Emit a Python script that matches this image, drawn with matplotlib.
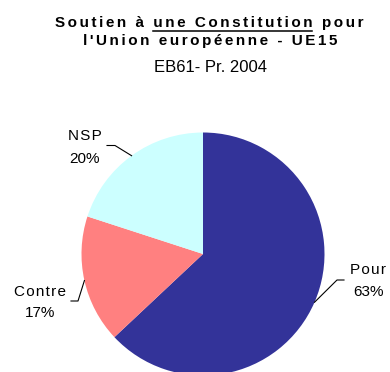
import numpy as np
import matplotlib
matplotlib.use("Agg")
import matplotlib.pyplot as plt
from matplotlib.lines import Line2D

plt.rcParams['font.family'] = ['Liberation Sans', 'DejaVu Sans']

# Soutien à une Constitution - EB61
labels = ['Pour', 'Contre', 'NSP']
values = [63, 17, 20]
colors = ['#333399', '#FF8080', '#CCFFFF']

title1 = "Soutien à une Constitution pour"
title_ul = "une Constitution"
title2 = "l'Union européenne - UE15"
title3 = "EB61- Pr. 2004"

W, H = 390, 372
fig = plt.figure(figsize=(W / 100, H / 100), dpi=100)

SP = '\u2006'  # six-per-em space used as letter spacing


def spaced(s, sep=SP):
    return sep.join(s)


def fy(y):
    return 1 - y / H


# pie centred at (203, 254) px with radius 121 px
cx, cy, r = 203, 254, 121.5
ax = fig.add_axes([(cx - r) / W, (H - cy - r) / H, 2 * r / W, 2 * r / H])
wedges, _ = ax.pie(values, colors=colors, startangle=90, counterclock=False,
                   radius=1, wedgeprops=dict(linewidth=0))
ax.set_xlim(-1, 1)
ax.set_ylim(-1, 1)
ax.set_aspect('equal')
ax.axis('off')

# leader: elbow (x, y), end x ; text: centre x, baseline 1, baseline 2
leaders = {
    'Pour':   ((337, 280), 344),
    'Contre': ((78, 301), 71),
    'NSP':    ((115, 145.5), 107),
}
text_pos = {
    'Pour':   (368, 274, 296),
    'Contre': (40, 296, 317),
    'NSP':    (85, 140, 163),
}
lab_fs = 11
for w, lab, v in zip(wedges, labels, values):
    ang = np.deg2rad((w.theta1 + w.theta2) / 2)
    (ex, ey), nx = leaders[lab]
    px = [np.cos(ang), (ex - cx) / r, (nx - cx) / r]
    py = [np.sin(ang), (cy - ey) / r, (cy - ey) / r]
    ax.plot(px, py, color='black', lw=0.8, clip_on=False)
    tx, b1, b2 = text_pos[lab]
    fig.text(tx / W, fy(b1), spaced(lab, '\u200a'), ha='center', va='baseline', fontsize=lab_fs)
    fig.text(tx / W, fy(b2), f"{v}%", ha='center', va='baseline', fontsize=lab_fs)

# title
fs = 11
t1 = fig.text(209 / W, fy(27), spaced(title1), ha='center', va='baseline',
              fontsize=fs, fontweight='bold')
fig.text(210 / W, fy(45), spaced(title2), ha='center', va='baseline',
         fontsize=fs, fontweight='bold')
fig.text(210 / W, fy(72), title3, ha='center', va='baseline', fontsize=12)

# underline "une Constitution"
fig.canvas.draw()
rend = fig.canvas.get_renderer()
bb = t1.get_window_extent(rend)


def text_width(s):
    t = fig.text(0, 0, s, fontsize=fs, fontweight='bold')
    w = t.get_window_extent(rend).width
    t.remove()
    return w


i0 = title1.index(title_ul)
i1 = i0 + len(title_ul)
x_start = bb.x0 + text_width(spaced(title1[:i0]) + SP)
x_end = bb.x0 + text_width(spaced(title1[:i1]))
y_line = fy(31)
fig.add_artist(Line2D([x_start / W, x_end / W], [y_line, y_line],
                      color='black', lw=1.1, transform=fig.transFigure))

fig.savefig('out.png', dpi=100)
